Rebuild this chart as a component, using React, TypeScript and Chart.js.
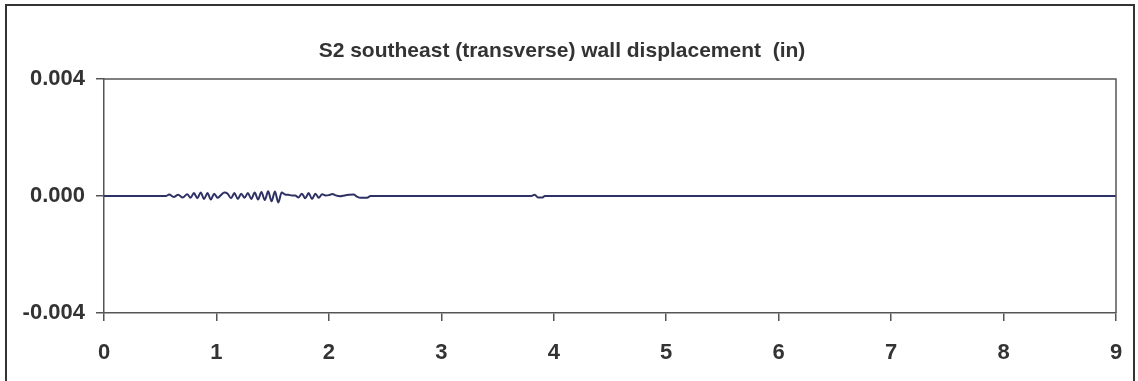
import React, { useEffect, useRef } from "react";
import { Chart, registerables } from "chart.js";

Chart.register(...registerables);

const TITLE = "S2 southeast (transverse) wall displacement  (in)";

// time (s)
const timeS: number[] = [
  0, 0.55, 0.58, 0.62, 0.66, 0.7, 0.74, 0.77, 0.8, 0.83, 0.86, 0.89, 0.92, 0.95, 0.98,
  1.01, 1.04, 1.07, 1.1, 1.13, 1.16, 1.19, 1.22, 1.25, 1.28, 1.31, 1.34, 1.37, 1.4,
  1.43, 1.46, 1.49, 1.52, 1.55, 1.58, 1.61, 1.64, 1.67, 1.7, 1.73, 1.76, 1.79, 1.82,
  1.85, 1.88, 1.91, 1.94, 1.97, 2.0, 2.03, 2.06, 2.1, 2.14, 2.18, 2.22, 2.25, 2.28,
  2.34, 2.37, 3.8, 3.83, 3.86, 3.9, 3.92, 9,
];

// displacement (in)
const displacementIn: number[] = [
  0, 0, 0.00005, -0.00003, 0.00004, -0.00005, 0.00006, -0.00006, 0.0001, -0.00008,
  0.00012, -0.0001, 0.0001, -0.00012, 0.00008, -0.00006, 0.00003, 0.00012, 0.00008,
  -0.00008, 0.0001, -0.0001, 0.00008, -0.00006, 0.0001, -0.0001, 0.00012, -0.00012,
  0.00014, -0.00014, 0.00016, -0.00018, 0.00015, -0.00022, 0.00012, 0.00005,
  0.00004, 0.00002, 0.00002, -0.00005, 0.00008, -0.00008, 0.0001, -0.0001,
  0.00008, -0.00006, 0.00006, 0.00002, 0.00003, 0.00007, 0.00002, -0.00001,
  0.00002, 0.00004, 0.00005, -0.00002, -0.00006, -0.00006, 0, 0, 0.00004,
  -0.00005, -0.00005, 0, 0,
];

const yTicks: number[] = [-0.004, 0, 0.004];
const xTicks: number[] = [0, 1, 2, 3, 4, 5, 6, 7, 8, 9];

const FONT = "'Liberation Sans', Arial, sans-serif";
const TEXT = "#333333";
const AXIS = "#555555";

export default function App() {
  const ref = useRef<HTMLCanvasElement | null>(null);

  useEffect(() => {
    document.body.style.margin = "0";
    const canvas = ref.current;
    if (!canvas) return;

    const framePlugin = {
      id: "frame",
      beforeDraw(chart: any) {
        const ctx = chart.ctx;
        ctx.save();
        ctx.fillStyle = "#ffffff";
        ctx.fillRect(0, 0, chart.width, chart.height);
        ctx.restore();
      },
      afterDraw(chart: any) {
        const ctx = chart.ctx;
        const a = chart.chartArea;
        ctx.save();
        // outer border
        ctx.strokeStyle = "#333333";
        ctx.lineWidth = 2;
        ctx.strokeRect(6, 5, 1128, 400);
        // plot box top & right
        ctx.strokeStyle = AXIS;
        ctx.lineWidth = 1.5;
        ctx.beginPath();
        ctx.moveTo(a.left, a.top);
        ctx.lineTo(a.right, a.top);
        ctx.lineTo(a.right, a.bottom);
        ctx.stroke();
        // title
        ctx.fillStyle = TEXT;
        ctx.font = `bold 21px ${FONT}`;
        ctx.textAlign = "center";
        ctx.textBaseline = "middle";
        ctx.fillText(TITLE, 562, 51);
        ctx.restore();
      },
    };

    const chart = new Chart(canvas, {
      type: "line",
      data: {
        datasets: [
          {
            data: timeS.map((t, i) => ({ x: t, y: displacementIn[i] })),
            borderColor: "#2E3163",
            borderWidth: 2,
            pointRadius: 0,
            cubicInterpolationMode: "monotone",
            fill: false,
          },
        ],
      },
      options: {
        animation: false,
        responsive: false,
        maintainAspectRatio: false,
        layout: { padding: { top: 79, right: 22, left: 0, bottom: 0 } },
        plugins: { legend: { display: false }, tooltip: { enabled: false } },
        scales: {
          x: {
            type: "linear",
            min: 0,
            max: 9,
            afterBuildTicks: (s: any) => {
              s.ticks = xTicks.map((v) => ({ value: v }));
            },
            afterFit: (s: any) => {
              s.height = 68;
              s.paddingRight = 0;
              s.paddingLeft = 0;
            },
            grid: {
              drawOnChartArea: false,
              drawTicks: true,
              tickLength: 8,
              color: AXIS,
              lineWidth: 1.5,
            },
            border: { display: true, color: AXIS, width: 1.5 },
            ticks: {
              color: TEXT,
              font: { family: FONT, size: 22, weight: "bold" },
              padding: 19,
              maxRotation: 0,
              callback: (v: any) => String(v),
            },
          },
          y: {
            type: "linear",
            min: -0.004,
            max: 0.004,
            afterBuildTicks: (s: any) => {
              s.ticks = yTicks.map((v) => ({ value: v }));
            },
            afterFit: (s: any) => {
              s.width = 104;
              s.paddingTop = 0;
              s.paddingBottom = 0;
            },
            grid: {
              drawOnChartArea: false,
              drawTicks: true,
              tickLength: 8,
              color: AXIS,
              lineWidth: 1.5,
            },
            border: { display: true, color: AXIS, width: 1.5 },
            ticks: {
              color: TEXT,
              font: { family: FONT, size: 22, weight: "bold" },
              padding: 11,
              callback: (v: any) => Number(v).toFixed(3),
            },
          },
        },
      },
      plugins: [framePlugin],
    });

    return () => chart.destroy();
  }, []);

  return (
    <div style={{ width: 1138, height: 381 }}>
      <canvas ref={ref} width={1138} height={381} style={{ display: "block" }} />
    </div>
  );
}
